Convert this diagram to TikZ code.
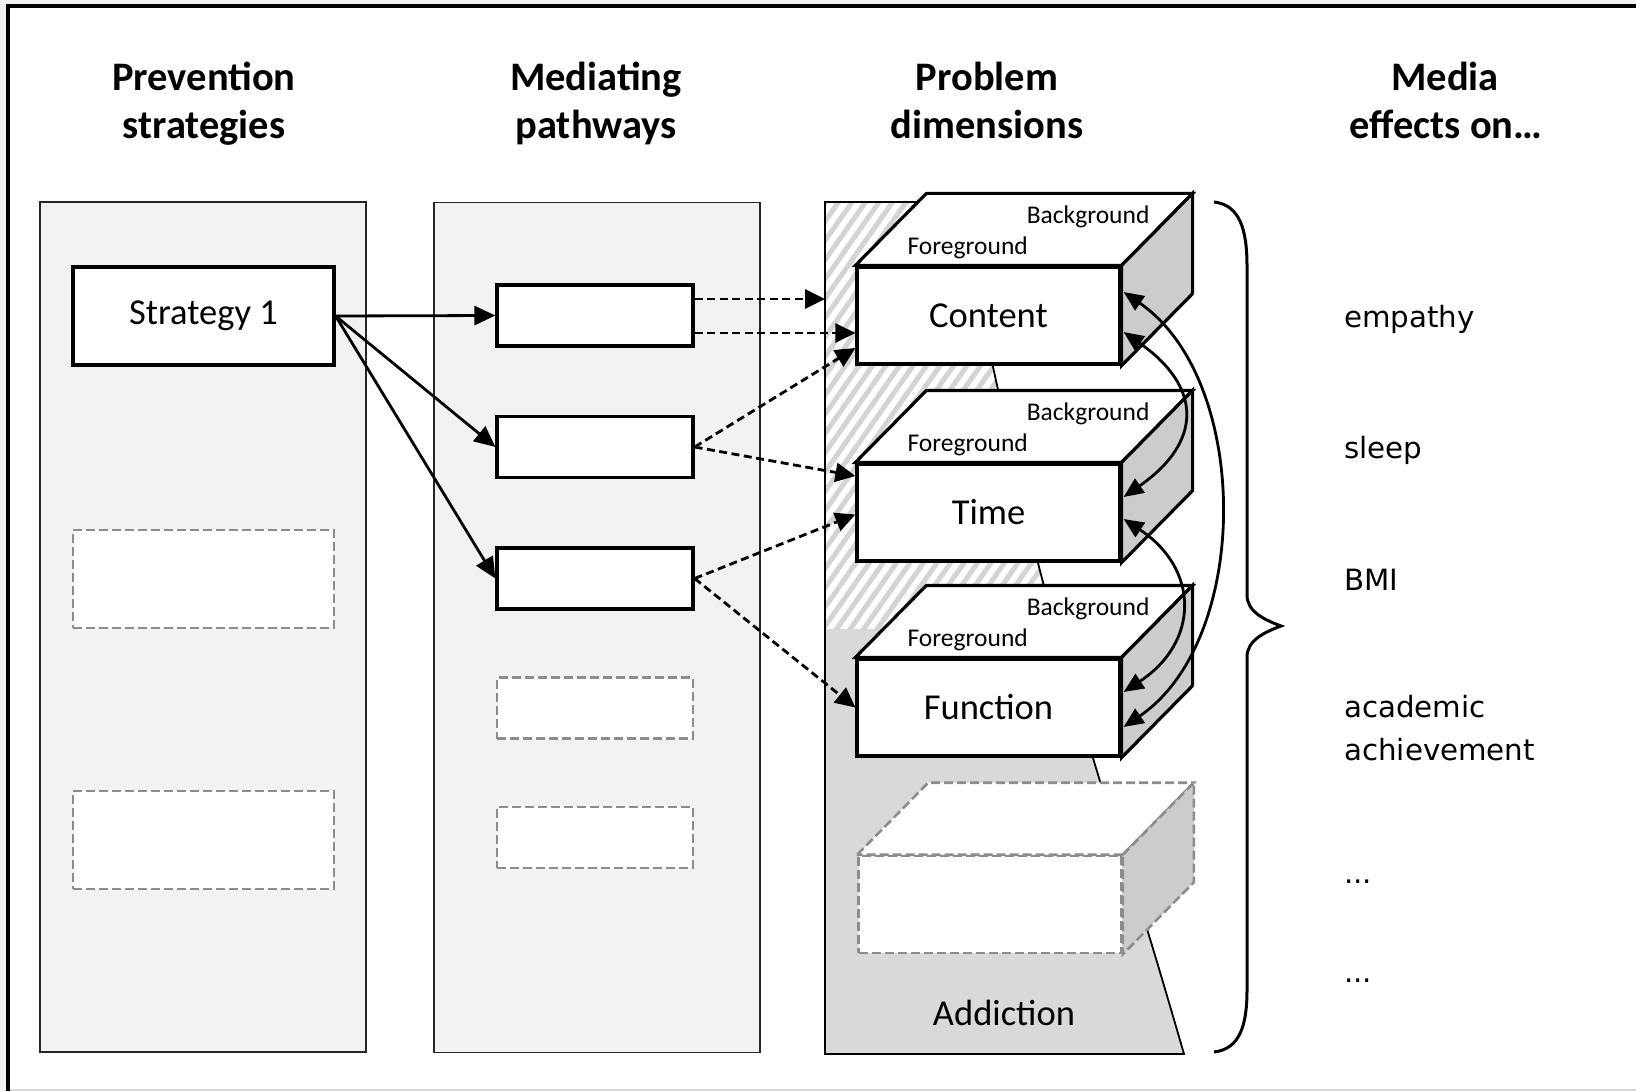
\documentclass[tikz,border=0pt]{standalone}
\usepackage{fontspec}
\setmainfont{Carlito}
\newfontfamily\dejavufont{DejaVu Sans}
\usetikzlibrary{arrows.meta}
\definecolor{colfill}{HTML}{F2F2F2}
\definecolor{regfill}{HTML}{D9D9D9}
\definecolor{sidefill}{HTML}{CCCCCC}
\definecolor{hatchc}{HTML}{D4D4D4}
\definecolor{dashgray}{HTML}{8C8C8C}
\newcommand\solidcuboid[4]{%
  \node[frontface] (#1) at (#2,#3) {#4};
  \draw[cubeedge, fill=white] (#1.north west) -- ([xshift=71pt,yshift=72pt]#1.north west) -- ([xshift=71pt,yshift=72pt]#1.north east) -- (#1.north east) -- cycle;
  \draw[cubeedge, fill=sidefill] (#1.north east) -- ([xshift=71pt,yshift=72pt]#1.north east) -- ([xshift=71pt,yshift=72pt]#1.south east) -- (#1.south east) -- cycle;
  \node[facelabel, anchor=base west] (#1fg) at ([xshift=52pt,yshift=11pt]#1.north west) {Foreground};
  \node[facelabel, anchor=base east] (#1bg) at ([xshift=28pt,yshift=42pt]#1.north east) {Background};
}
\begin{document}
\begin{tikzpicture}[x=1pt,y=-1pt,
  column/.style={draw=black!85, line width=1.8pt, fill=colfill, minimum width=326pt, minimum height=850pt, inner sep=0pt},
  stratbox/.style={draw=black, line width=3.2pt, fill=white, minimum width=261pt, minimum height=98pt, inner sep=0pt, font=\fontsize{36.5}{44}\selectfont},
  stratempty/.style={draw=dashgray, line width=2.6pt, dash pattern=on 9pt off 4pt, fill=white, minimum width=261pt, minimum height=98pt, inner sep=0pt},
  medbox/.style={draw=black, line width=3.2pt, fill=white, minimum width=196pt, minimum height=61pt, inner sep=0pt},
  medempty/.style={draw=dashgray, line width=2.6pt, dash pattern=on 9pt off 4pt, fill=white, minimum width=196pt, minimum height=61pt, inner sep=0pt},
  frontface/.style={draw=black, line width=3.2pt, fill=white, minimum width=263pt, minimum height=97pt, inner sep=0pt, font=\fontsize{36.5}{44}\selectfont},
  cubeedge/.style={draw=black, line width=3.2pt, line join=miter},
  emptyedge/.style={draw=dashgray, line width=2.6pt, dash pattern=on 9pt off 4pt},
  facelabel/.style={inner sep=0pt, font=\fontsize{25.5}{30}\selectfont},
  title/.style={inner sep=0pt, anchor=base, font=\bfseries\fontsize{40.5}{48}\selectfont},
  effect/.style={inner sep=0pt, anchor=base west, font=\dejavufont\fontsize{29.3}{35}\selectfont},
  solidarrow/.style={line width=2.8pt, -{Triangle[length=21pt,width=19pt]}},
  dasharrow/.style={line width=2.8pt, dash pattern=on 8pt off 4.5pt, -{Triangle[length=20pt,width=19pt]}},
  curvearrow/.style={line width=2.8pt, {Triangle[length=20pt,width=17pt]}-{Triangle[length=20pt,width=17pt]}}
]
\useasboundingbox (0,0) rectangle (1636,1091);
% frame
\fill[colfill] (0,0) rectangle (1636,1091);
\fill[white] (8,6) rectangle (1636,1089);
\draw[black!15, line width=1.5pt] (10,1090) -- (1636,1090);
\draw[line width=4pt] (8,1091) -- (8,6) -- (1636,6);

% titles
\node[title] (t1a) at (204,91) {Prevention};
\node[title] (t1b) at (204,139) {strategies};
\node[title] (t2a) at (596,91) {Mediating};
\node[title] (t2b) at (596,139) {pathways};
\node[title] (t3a) at (987,91) {Problem};
\node[title] (t3b) at (987,139) {dimensions};
\node[title] (t4a) at (1445,91) {Media};
\node[title] (t4b) at (1446,139) {effects on…};

% columns
\node[column] (c1) at (203,627) {};
\node[column] (c2) at (597,627.5) {};

% strategies
\node[stratbox] (s1) at (203.5,316) {Strategy 1};
\node[stratempty] (s2) at (203.5,579) {};
\node[stratempty] (s3) at (203.5,840) {};

% mediators
\node[medbox] (m1) at (595,315.5) {};
\node[medbox] (m2) at (595,447) {};
\node[medbox] (m3) at (595,578.5) {};
\node[medempty] (m4) at (595,708) {};
\node[medempty] (m5) at (595,837.5) {};

% problem dimension region
\fill[regfill] (825,1054) -- (825,202) -- plot[smooth, tension=0.6] coordinates {(958,202) (993,367) (1038,563) (1093,758) (1147,929) (1184,1054)} -- cycle;
\begin{scope}
  \clip (825,1054) -- (825,202) -- plot[smooth, tension=0.6] coordinates {(958,202) (993,367) (1038,563) (1093,758) (1147,929) (1184,1054)} -- cycle;
  \clip (820,195) rectangle (1200,629);
  \fill[white] (820,195) rectangle (1200,629);
  \foreach \k in {0,...,42} {
    \draw[hatchc, line width=5pt] (505+13.5*\k,640) -- ++(322,-460);
  }
\end{scope}
\draw[black, line width=1.8pt] (825,1054) -- (825,202) -- plot[smooth, tension=0.6] coordinates {(958,202) (993,367) (1038,563) (1093,758) (1147,929) (1184,1054)} -- cycle;
\coordinate (pdedge) at (825,299);

% cuboids
\solidcuboid{content}{988.5}{315.5}{Content}
\solidcuboid{time}{988.5}{512.5}{Time}
\solidcuboid{function}{988.5}{707.5}{Function}
\node[frontface, draw=dashgray, line width=2.6pt, dash pattern=on 9pt off 4pt] (empty) at (990,904.5) {};
\draw[emptyedge, fill=white] (empty.north west) -- ([xshift=71pt,yshift=72pt]empty.north west) -- ([xshift=71pt,yshift=72pt]empty.north east) -- (empty.north east) -- cycle;
\draw[emptyedge, fill=sidefill] (empty.north east) -- ([xshift=71pt,yshift=72pt]empty.north east) -- ([xshift=71pt,yshift=72pt]empty.south east) -- (empty.south east) -- cycle;
\node[inner sep=0pt, font=\fontsize{36.5}{44}\selectfont] (addiction) at (1004,1013) {Addiction};

% solid arrows
\draw[solidarrow] (s1.east) -- (m1.west);
\draw[solidarrow] (s1.east) -- (m2.west);
\draw[solidarrow] (s1.east) -- (m3.west);

% dashed arrows
\draw[dasharrow] ([yshift=16.5pt]m1.east) -- (pdedge);
\draw[dasharrow] ([yshift=-17.5pt]m1.east) -- ([yshift=-17.5pt]content.west);
\draw[dasharrow] (m2.east) -- ([yshift=-32.5pt]content.west);
\draw[dasharrow] (m2.east) -- ([yshift=36.5pt]time.west);
\draw[dasharrow] (m3.east) -- ([yshift=-2pt]time.west);
\draw[dasharrow] (m3.east) -- (function.west);

% curved arrows
\draw[curvearrow] ([xshift=2pt,yshift=23.5pt]content.east) .. controls +(128,88) and +(128,-87) .. ([xshift=2pt,yshift=-19.5pt]function.east);
\draw[curvearrow] ([xshift=2pt,yshift=-16.5pt]content.east) .. controls +(79,55) and +(79,-55) .. ([xshift=2pt,yshift=15.5pt]time.east);
\draw[curvearrow] ([xshift=2pt,yshift=-6.5pt]time.east) .. controls +(76,50) and +(76,-50) .. ([xshift=2pt,yshift=15.5pt]function.east);

% brace
\coordinate (bracetop) at (1214,202);
\coordinate (bracetip) at (1281,626);
\coordinate (bracebot) at (1214,1052);
\draw[line width=3pt] (bracetop) .. controls (1240,205) and (1247,230) .. (1247,266) -- (1247,595) .. controls (1247,612) and (1265,620) .. (bracetip) .. controls (1265,632) and (1247,640) .. (1247,657) -- (1247,990) .. controls (1247,1025) and (1240,1049) .. (bracebot);

% effects
\node[effect] (e1) at (1344,327) {empathy};
\node[effect] (e2) at (1344,458) {sleep};
\node[effect] (e3) at (1344,590) {BMI};
\node[effect] (e4a) at (1344,717) {academic};
\node[effect] (e4b) at (1344,760) {achievement};
\node[effect] (e5) at (1344,883) {...};
\node[effect] (e6) at (1344,982) {...};
\end{tikzpicture}
\end{document}
